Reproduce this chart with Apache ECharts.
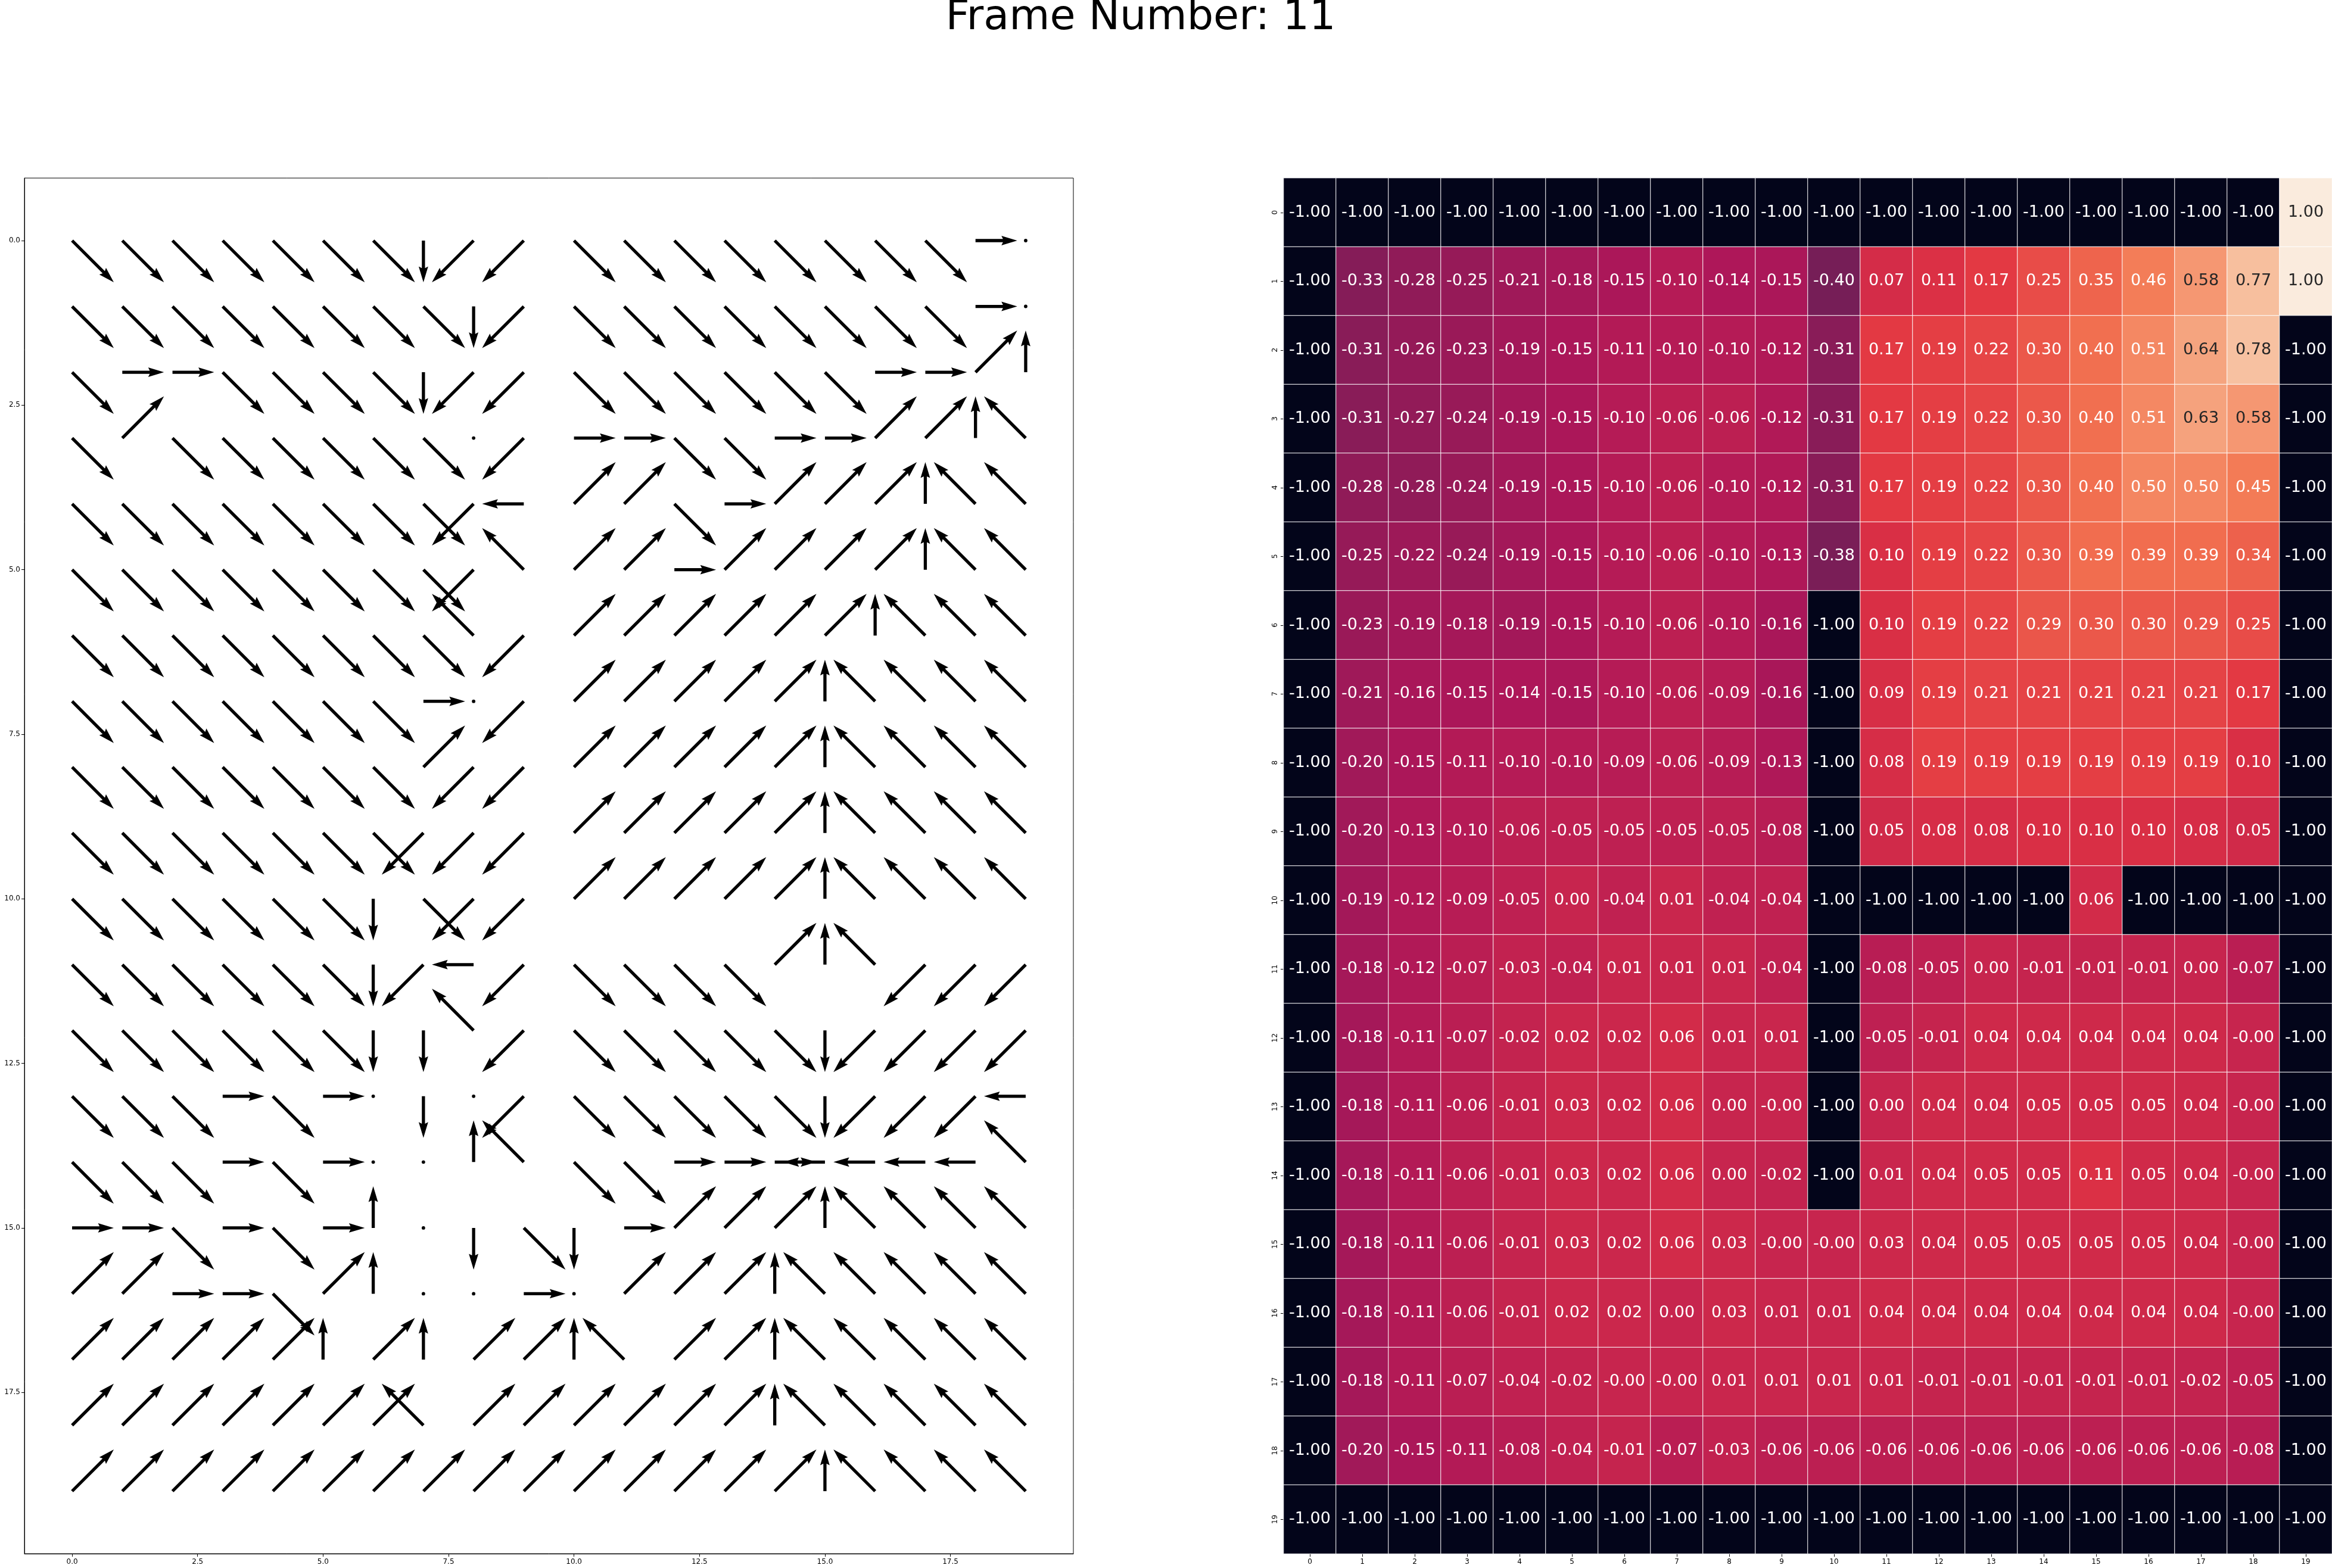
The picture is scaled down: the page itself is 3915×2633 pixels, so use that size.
<!DOCTYPE html>
<html><head><meta charset="utf-8">
<script src="https://cdn.jsdelivr.net/npm/echarts@6/dist/echarts.min.js"></script>
<style>html,body{margin:0;padding:0;background:#fff}#c{width:3915px;height:2633px}</style>
</head><body><div id="c"></div>
<script>
const chartTitle = 'Frame Number: 11';
const heatCategories = ['0','1','2','3','4','5','6','7','8','9','10','11','12','13','14','15','16','17','18','19'];
const quiverTicks = [0, 2.5, 5, 7.5, 10, 12.5, 15, 17.5];
// policy arrows, one string per row, numpad code per column:
// 1 down-left, 2 down, 3 down-right, 4 left, 5 zero, 6 right, 7 up-left, 8 up, 9 up-right
const policyRows = [
  '33333332113333333365',
  '33333333213333333365',
  '36633332113333336698',
  '39333333516633669987',
  '33333333149936999877',
  '33333333179969999877',
  '33333333719999998777',
  '33333336519999987777',
  '33333339119999987777',
  '33333331119999987777',
  '33333323119999987777',
  '33333321413333987111',
  '33333322713333321111',
  '33363652513333321114',
  '33363655873366644447',
  '66363685232699987777',
  '99663985565999877777',
  '99999898998799877777',
  '99999997999999877777',
  '99999999999999987777'
];
const stateValues = [
  [-1,-1,-1,-1,-1,-1,-1,-1,-1,-1,-1,-1,-1,-1,-1,-1,-1,-1,-1,1],
  [-1,-0.33,-0.28,-0.25,-0.21,-0.18,-0.15,-0.10,-0.14,-0.15,-0.40,0.07,0.11,0.17,0.25,0.35,0.46,0.58,0.77,1],
  [-1,-0.31,-0.26,-0.23,-0.19,-0.15,-0.11,-0.10,-0.10,-0.12,-0.31,0.17,0.19,0.22,0.30,0.40,0.51,0.64,0.78,-1],
  [-1,-0.31,-0.27,-0.24,-0.19,-0.15,-0.10,-0.06,-0.06,-0.12,-0.31,0.17,0.19,0.22,0.30,0.40,0.51,0.63,0.58,-1],
  [-1,-0.28,-0.28,-0.24,-0.19,-0.15,-0.10,-0.06,-0.10,-0.12,-0.31,0.17,0.19,0.22,0.30,0.40,0.50,0.50,0.45,-1],
  [-1,-0.25,-0.22,-0.24,-0.19,-0.15,-0.10,-0.06,-0.10,-0.13,-0.38,0.10,0.19,0.22,0.30,0.39,0.39,0.39,0.34,-1],
  [-1,-0.23,-0.19,-0.18,-0.19,-0.15,-0.10,-0.06,-0.10,-0.16,-1,0.10,0.19,0.22,0.29,0.30,0.30,0.29,0.25,-1],
  [-1,-0.21,-0.16,-0.15,-0.14,-0.15,-0.10,-0.06,-0.09,-0.16,-1,0.09,0.19,0.21,0.21,0.21,0.21,0.21,0.17,-1],
  [-1,-0.20,-0.15,-0.11,-0.10,-0.10,-0.09,-0.06,-0.09,-0.13,-1,0.08,0.19,0.19,0.19,0.19,0.19,0.19,0.10,-1],
  [-1,-0.20,-0.13,-0.10,-0.06,-0.05,-0.05,-0.05,-0.05,-0.08,-1,0.05,0.08,0.08,0.10,0.10,0.10,0.08,0.05,-1],
  [-1,-0.19,-0.12,-0.09,-0.05,0.00,-0.04,0.01,-0.04,-0.04,-1,-1,-1,-1,-1,0.06,-1,-1,-1,-1],
  [-1,-0.18,-0.12,-0.07,-0.03,-0.04,0.01,0.01,0.01,-0.04,-1,-0.08,-0.05,0.00,-0.01,-0.01,-0.01,0.00,-0.07,-1],
  [-1,-0.18,-0.11,-0.07,-0.02,0.02,0.02,0.06,0.01,0.01,-1,-0.05,-0.01,0.04,0.04,0.04,0.04,0.04,-0.001,-1],
  [-1,-0.18,-0.11,-0.06,-0.01,0.03,0.02,0.06,0.00,-0.001,-1,0.00,0.04,0.04,0.05,0.05,0.05,0.04,-0.001,-1],
  [-1,-0.18,-0.11,-0.06,-0.01,0.03,0.02,0.06,0.00,-0.02,-1,0.01,0.04,0.05,0.05,0.11,0.05,0.04,-0.001,-1],
  [-1,-0.18,-0.11,-0.06,-0.01,0.03,0.02,0.06,0.03,-0.001,-0.001,0.03,0.04,0.05,0.05,0.05,0.05,0.04,-0.001,-1],
  [-1,-0.18,-0.11,-0.06,-0.01,0.02,0.02,0.00,0.03,0.01,0.01,0.04,0.04,0.04,0.04,0.04,0.04,0.04,-0.001,-1],
  [-1,-0.18,-0.11,-0.07,-0.04,-0.02,-0.001,-0.001,0.01,0.01,0.01,0.01,-0.01,-0.01,-0.01,-0.01,-0.01,-0.02,-0.05,-1],
  [-1,-0.20,-0.15,-0.11,-0.08,-0.04,-0.01,-0.07,-0.03,-0.06,-0.06,-0.06,-0.06,-0.06,-0.06,-0.06,-0.06,-0.06,-0.08,-1],
  [-1,-1,-1,-1,-1,-1,-1,-1,-1,-1,-1,-1,-1,-1,-1,-1,-1,-1,-1,-1]
];

// ---- styles ----
const FONT = '"DejaVu Sans", "Liberation Sans", sans-serif';
const rocket = ['#03051a','#35193e','#701f57','#ad1759','#e13342','#f37651','#f6b48f','#faebdd'];
const ARROW_UNIT = 70;   // px per unit vector component
const SHAFT = 5.3;       // shaft width px

const DIRS = {1:[-1,1],2:[0,1],3:[1,1],4:[-1,0],5:[0,0],6:[1,0],7:[-1,-1],8:[0,-1],9:[1,-1]};

function hexToRgb(h){return [parseInt(h.substr(1,2),16),parseInt(h.substr(3,2),16),parseInt(h.substr(5,2),16)];}
function colorAt(v){
  let t = (v + 1) / 2; t = Math.max(0, Math.min(1, t));
  const n = rocket.length - 1, f = t * n, i = Math.min(n - 1, Math.floor(f)), k = f - i;
  const a = hexToRgb(rocket[i]), b = hexToRgb(rocket[i+1]);
  return [0,1,2].map(j => a[j] + (b[j]-a[j]) * k);
}
function lum(rgb){
  const c = rgb.map(x => { x /= 255; return x <= 0.03928 ? x/12.92 : Math.pow((x+0.055)/1.055, 2.4); });
  return 0.2126*c[0] + 0.7152*c[1] + 0.0722*c[2];
}

const quiverData = [];
policyRows.forEach((row, r) => { for (let c = 0; c < row.length; c++) quiverData.push([c, r, +row[c]]); });

const heatData = [];
stateValues.forEach((row, r) => row.forEach((v, c) => {
  heatData.push({ value: [c, r, v], label: { color: lum(colorAt(v)) > 0.408 ? '#262626' : '#ffffff' } });
}));

function renderArrow(params, api) {
  const c = api.value(0), r = api.value(1), code = api.value(2);
  const p = api.coord([c, r]);
  const d = DIRS[code];
  if (!d) return null;
  if (d[0] === 0 && d[1] === 0) {
    return { type: 'circle', shape: { cx: p[0], cy: p[1], r: SHAFT * 0.55 }, style: { fill: '#000' } };
  }
  const mag = Math.hypot(d[0], d[1]);
  const L = ARROW_UNIT * mag;
  const ux = d[0] / mag, uy = d[1] / mag, nx = -uy, ny = ux;
  const w = SHAFT;
  const loc = [[0, w/2],[L-4.5*w, w/2],[L-5*w, 1.5*w],[L, 0],[L-5*w, -1.5*w],[L-4.5*w, -w/2],[0, -w/2]];
  const pts = loc.map(([a, b]) => [p[0] + a*ux + b*nx, p[1] + a*uy + b*ny]);
  return { type: 'polygon', shape: { points: pts }, style: { fill: '#000' } };
}

const chart = echarts.init(document.getElementById('c'), null, { renderer: 'canvas' });
const tickLabel = { fontSize: 12, color: '#000', fontFamily: FONT };
chart.setOption({
  animation: false,
  backgroundColor: '#fff',
  graphic: [{
    type: 'text', left: null, x: 1915, y: 31,
    style: { text: chartTitle, fontSize: 70, fontFamily: FONT, fill: '#000', textAlign: 'center', textVerticalAlign: 'middle', verticalAlign: 'middle', align: 'center' }
  }],
  grid: [
    { left: 41, top: 299, width: 1761, height: 2310, show: true, borderColor: '#000', borderWidth: 1, backgroundColor: 'transparent', containLabel: false },
    { left: 2155, top: 299, width: 1760, height: 2310, containLabel: false }
  ],
  xAxis: [
    { type: 'value', gridIndex: 0, min: -0.95, max: 19.95, position: 'bottom',
      splitLine: { show: false },
      axisLine: { show: true, onZero: false, lineStyle: { color: '#000', width: 1 } },
      axisTick: { show: true, length: 5, lineStyle: { color: '#000', width: 1 }, customValues: quiverTicks },
      axisLabel: Object.assign({ margin: 8, customValues: quiverTicks, formatter: v => v.toFixed(1) }, tickLabel) },
    { type: 'category', gridIndex: 1, data: heatCategories, position: 'bottom',
      axisLine: { show: false },
      axisTick: { show: true, alignWithLabel: true, length: 5, lineStyle: { color: '#000', width: 1 } },
      axisLabel: Object.assign({ margin: 8, interval: 0 }, tickLabel),
      splitLine: { show: false }, splitArea: { show: false } }
  ],
  yAxis: [
    { type: 'value', gridIndex: 0, min: -0.95, max: 19.95, inverse: true, position: 'left',
      splitLine: { show: false },
      axisLine: { show: true, onZero: false, lineStyle: { color: '#000', width: 1 } },
      axisTick: { show: true, length: 5, lineStyle: { color: '#000', width: 1 }, customValues: quiverTicks },
      axisLabel: Object.assign({ margin: 7, customValues: quiverTicks, formatter: v => v.toFixed(1) }, tickLabel) },
    { type: 'category', gridIndex: 1, data: heatCategories, inverse: true, position: 'left',
      axisLine: { show: false },
      axisTick: { show: true, alignWithLabel: true, length: 5, lineStyle: { color: '#000', width: 1 } },
      axisLabel: Object.assign({ margin: 8, interval: 0, rotate: 90 }, tickLabel),
      splitLine: { show: false }, splitArea: { show: false } }
  ],
  visualMap: {
    show: false, type: 'continuous', min: -1, max: 1, seriesIndex: 1, dimension: 2,
    inRange: { color: rocket }
  },
  series: [
    { type: 'custom', name: 'policy', xAxisIndex: 0, yAxisIndex: 0, data: quiverData,
      encode: { x: 0, y: 1 }, renderItem: renderArrow, clip: false, silent: true },
    { type: 'heatmap', name: 'values', xAxisIndex: 1, yAxisIndex: 1, data: heatData,
      itemStyle: { borderColor: '#ffffff', borderWidth: 1 },
      label: { show: true, fontSize: 27, fontFamily: FONT, formatter: p => p.value[2].toFixed(2) },
      emphasis: { disabled: true } }
  ]
});
</script>
</body></html>
